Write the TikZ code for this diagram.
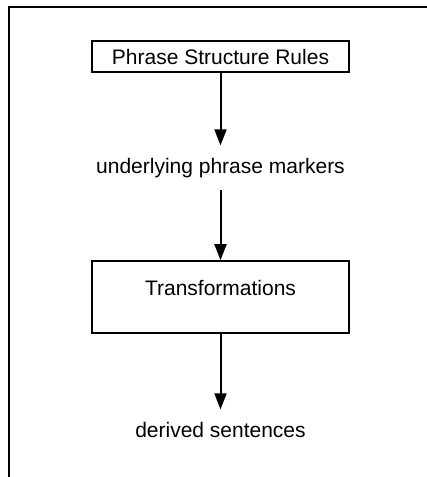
\documentclass[tikz,border=0pt]{standalone}
\usepackage{fontspec}
\setmainfont{Liberation Sans}
\usetikzlibrary{arrows.meta}

\begin{document}
\begin{tikzpicture}[x=0.5pt,y=-0.5pt,
    font=\fontsize{10.5}{12}\selectfont,
    rulebox/.style={draw,line width=0.8pt,inner sep=0pt,minimum width=128.5pt},
    stage/.style={inner xsep=0pt,inner ysep=6pt,anchor=base},
    flow/.style={line width=1pt,-{Triangle[length=8pt,width=6pt]}}]
  \useasboundingbox (0,0) rectangle (427,477);
  % frame
  \coordinate (ftl) at (9,7);
  \coordinate (ftr) at (427,7);
  \coordinate (fbl) at (9,477);
  \draw[line width=1pt] (ftr) -- (ftl) -- (fbl);
  % boxes and texts
  \node[rulebox,minimum height=15.5pt] (psr) at (220.5,56.5) {Phrase Structure Rules};
  \node[stage] (upm) at (220.5,173) {underlying phrase markers};
  \node[rulebox,minimum height=36pt,text height=7.5pt,text depth=9pt] (trans) at (220.5,297) {Transformations};
  \node[stage] (ds) at (220.5,437) {derived sentences};
  % arrows
  \draw[flow] (psr) -- (upm);
  \draw[flow] (upm) -- (trans);
  \draw[flow] (trans) -- (ds);
\end{tikzpicture}
\end{document}
